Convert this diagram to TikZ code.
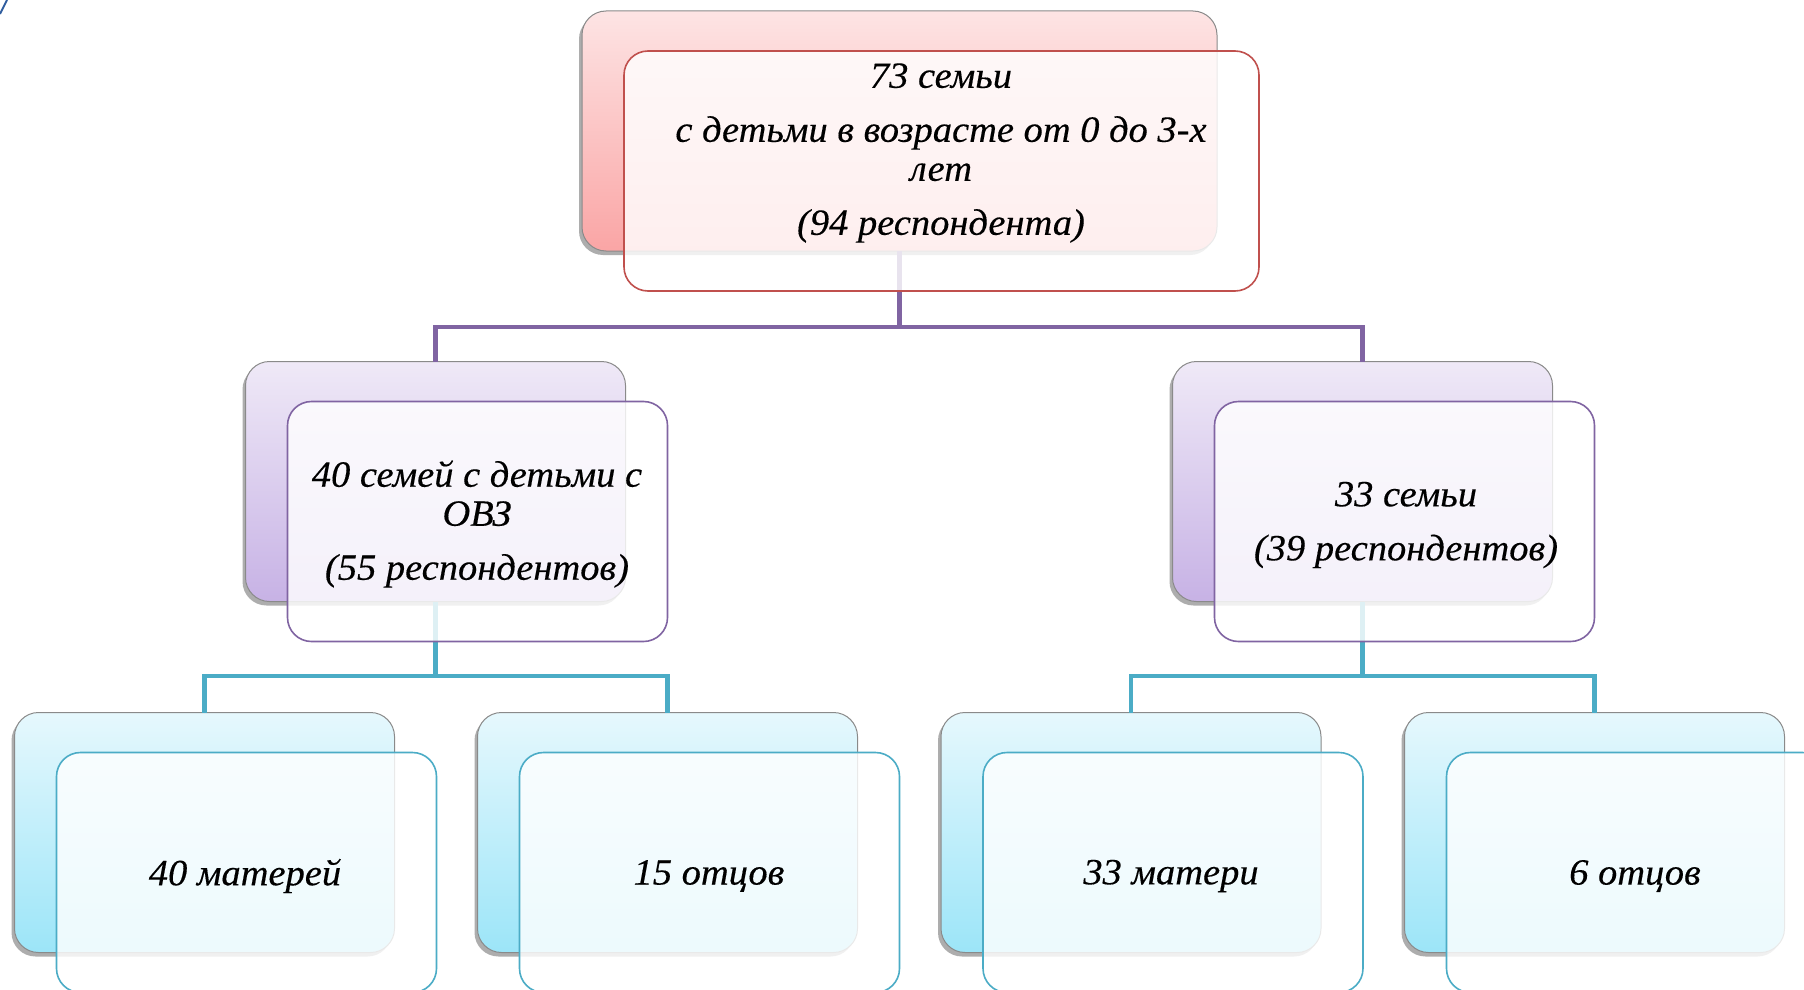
\documentclass[tikz,border=0pt]{standalone}
\usepackage{fontspec}
\setmainfont[FakeStretch=1.04,FakeBold=0.3]{Liberation Serif}
\usetikzlibrary{shadows}
\definecolor{pinkT}{HTML}{FDE4E4}
\definecolor{pinkB}{HTML}{FAA5A5}
\definecolor{redL}{HTML}{C0504D}
\definecolor{purT}{HTML}{EFE9F7}
\definecolor{purB}{HTML}{C7B2E5}
\definecolor{purL}{HTML}{8064A2}
\definecolor{cyT}{HTML}{E6F8FD}
\definecolor{cyB}{HTML}{9CE5F8}
\definecolor{cyL}{HTML}{4BACC6}
\definecolor{grayL}{HTML}{8A8A8A}
\definecolor{markB}{HTML}{2F5C9E}
\begin{document}
\begin{tikzpicture}[x=1pt,y=-1pt,
  backbox/.style={rounded corners=24pt, draw=grayL, line width=1pt,
    drop shadow={shadow xshift=-3pt, shadow yshift=-4pt, opacity=0.4, fill=black!80},
    inner sep=0pt, outer sep=0pt},
  frontbox/.style={rounded corners=24pt, fill=white, fill opacity=0.82,
    line width=1.6pt, inner sep=0pt, outer sep=0pt},
  wide/.style={minimum width=635pt, minimum height=240pt},
  narrow/.style={minimum width=380pt, minimum height=240pt},
  pinkback/.style={backbox, wide, top color=pinkT, bottom color=pinkB},
  purback/.style={backbox, narrow, top color=purT, bottom color=purB},
  cyback/.style={backbox, narrow, top color=cyT, bottom color=cyB},
  conP/.style={draw=purL, line width=4.5pt},
  conC/.style={draw=cyL, line width=4.5pt},
  txt/.style={font=\fontsize{37}{39}\selectfont\itshape, align=center, text=black, inner sep=0pt}
]
\useasboundingbox (0,0) rectangle (1804,990);
\fill[white] (0,0) rectangle (1804,990);
\draw[markB, line width=2pt] (0,14) -- (7,0);

% back boxes
\node[pinkback] (b0) at (899.5,131) {};
\node[purback] (b1) at (435.5,481.5) {};
\node[purback] (b2) at (1362.5,481.5) {};
\node[cyback] (b3) at (204.5,832.5) {};
\node[cyback] (b4) at (667.5,832.5) {};
\node[cyback] (b5) at (1131,832.5) {};
\node[cyback] (b6) at (1594.5,832.5) {};

% connectors
\coordinate (j0) at (899.5,327);
\coordinate (j1) at (435.5,676);
\coordinate (j2) at (1362.5,676);
\draw[conP] (b0.south) -- (j0) -| (b1.north);
\draw[conP] (j0) -| (b2.north);
\draw[conC] (b1.south) -- (j1) -| (b3.north);
\draw[conC] (j1) -| (b4.north);
\draw[conC] (b2.south) -- (j2) -| (b5.north);
\draw[conC] (j2) -| (b6.north);

% front boxes
\node[frontbox, wide, draw=redL] (f0) at (941.5,171) {};
\node[frontbox, narrow, draw=purL] (f1) at (477.5,521.5) {};
\node[frontbox, narrow, draw=purL] (f2) at (1404.5,521.5) {};
\node[frontbox, narrow, draw=cyL] (f3) at (246.5,872.5) {};
\node[frontbox, narrow, draw=cyL] (f4) at (709.5,872.5) {};
\node[frontbox, narrow, draw=cyL] (f5) at (1173,872.5) {};
\node[frontbox, narrow, draw=cyL] (f6) at (1636.5,872.5) {};

% texts
\node[txt] (t0) at (941,153) {73 семьи\\[15pt] с детьми в возрасте от 0 до 3-х\\ лет\\[15pt] (94 респондента)};
\node[txt] (t1) at (477,524) {40 семей с детьми с\\ ОВЗ\\[15pt] (55 респондентов)};
\node[txt] (t2) at (1406,525) {33 семьи\\[15pt] (39 респондентов)};
\node[txt] (t3) at (245,876) {40 матерей};
\node[txt] (t4) at (709,876) {15 отцов};
\node[txt] (t5) at (1171,876) {33 матери};
\node[txt] (t6) at (1635,876) {6 отцов};
\end{tikzpicture}
\end{document}
